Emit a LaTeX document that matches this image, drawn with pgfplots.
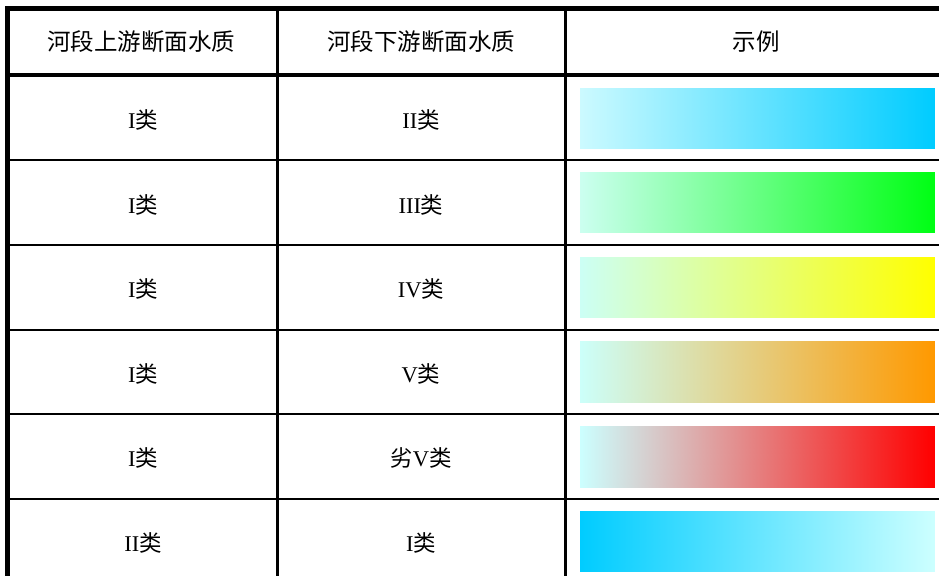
\documentclass[border=0pt]{standalone}
\usepackage{fontspec}
\setmainfont{Liberation Serif}
\newfontfamily\cjk{Noto Sans CJK SC}
\usepackage{pgfplots}
\pgfplotsset{compat=1.18}

% one gradient bar: name, top, bottom, left colour, right colour
\newcommand\gradbar[5]{%
  \addplot[surf, shader=interp, mesh/rows=2, mesh/cols=2, point meta=explicit,
    colormap={#1}{#4 #5}]
    coordinates {(580,#2) [0] (934,#2) [1] (580,#3) [0] (934,#3) [1]};
}
% one table rule: end points, width
\newcommand\tabrule[2]{%
  \addplot[black, line width=#2] coordinates {#1};
}
\tikzset{hd/.style={font=\fontsize{23.5}{28}\selectfont}, bd/.style={font=\fontsize{22.5}{27}\selectfont}}

\begin{document}
\begin{tikzpicture}
\begin{axis}[
  width=939pt, height=576pt, scale only axis,
  xmin=0, xmax=939, ymin=0, ymax=576, y dir=reverse,
  hide axis, clip=true,
  point meta min=0, point meta max=1,
]
% gradient samples
\gradbar{cA}{87.7}{148.7}{rgb255=(204,250,255)}{rgb255=(0,204,255)}
\gradbar{cB}{171.9}{232.9}{rgb255=(204,255,240)}{rgb255=(0,255,20)}
\gradbar{cC}{256.7}{317.7}{rgb255=(204,255,245)}{rgb255=(255,255,0)}
\gradbar{cD}{341.2}{402.2}{rgb255=(204,255,250)}{rgb255=(255,153,0)}
\gradbar{cE}{426.0}{487.0}{rgb255=(204,255,255)}{rgb255=(255,0,0)}
\gradbar{cF}{511.0}{571.5}{rgb255=(0,204,255)}{rgb255=(204,255,255)}

% table rules
\tabrule{(5,8.5) (939,8.5)}{5pt}
\tabrule{(7.5,6) (7.5,576)}{5pt}
\tabrule{(5,74.5) (939,74.5)}{4pt}
\tabrule{(7.5,160) (939,160)}{2.2pt}
\tabrule{(7.5,245) (939,245)}{2.2pt}
\tabrule{(7.5,330) (939,330)}{2.2pt}
\tabrule{(7.5,414) (939,414)}{2.2pt}
\tabrule{(7.5,499) (939,499)}{2.2pt}
\tabrule{(277.5,8.5) (277.5,576)}{2.5pt}
\tabrule{(565.5,8.5) (565.5,576)}{2.5pt}

% header
\node[hd] at (axis cs:141,42) {\cjk 河段上游断面水质};
\node[hd] at (axis cs:421,42) {\cjk 河段下游断面水质};
\node[hd] at (axis cs:756,42) {\cjk 示例};

% rows
\node[bd] at (axis cs:143,120) {I{\cjk 类}};
\node[bd] at (axis cs:421,120) {II{\cjk 类}};
\node[bd] at (axis cs:143,204.5) {I{\cjk 类}};
\node[bd] at (axis cs:421,204.5) {III{\cjk 类}};
\node[bd] at (axis cs:143,289) {I{\cjk 类}};
\node[bd] at (axis cs:421,289) {IV{\cjk 类}};
\node[bd] at (axis cs:143,373.5) {I{\cjk 类}};
\node[bd] at (axis cs:421,373.5) {V{\cjk 类}};
\node[bd] at (axis cs:143,458) {I{\cjk 类}};
\node[bd] at (axis cs:421,458) {{\cjk 劣}V{\cjk 类}};
\node[bd] at (axis cs:143,542.5) {II{\cjk 类}};
\node[bd] at (axis cs:421,542.5) {I{\cjk 类}};
\end{axis}
\pgfresetboundingbox
\useasboundingbox (current axis.south west) rectangle (current axis.north east);
\end{tikzpicture}
\end{document}
